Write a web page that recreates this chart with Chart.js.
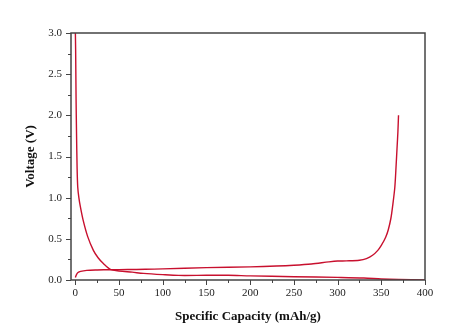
<!DOCTYPE html>
<html>
<head>
<meta charset="utf-8">
<script src="https://cdn.jsdelivr.net/npm/chart.js@4/dist/chart.umd.min.js"></script>
<style>
  html, body { margin: 0; padding: 0; background: #fff; }
  #wrap { width: 472px; height: 330px; }
</style>
</head>
<body>
<div id="wrap"><canvas id="chart" width="472" height="330"></canvas></div>
<script>
// first discharge curve (capacity mAh/g, voltage V)
var dischargeCap = [0, 0.3, 0.8, 1.3, 2, 2.7, 4, 5.7, 8.8, 14, 20.6, 26, 32, 40, 50, 65, 78, 100, 118, 150, 175, 200, 250, 300, 330, 350, 370, 400];
var dischargeV   = [3.0, 2.8, 2.2, 1.8, 1.35, 1.13, 1.0, 0.89, 0.73, 0.53, 0.36, 0.27, 0.2, 0.13, 0.11, 0.095, 0.08, 0.065, 0.056, 0.057, 0.057, 0.05, 0.04, 0.032, 0.025, 0.013, 0.006, 0.0];

// first charge curve
var chargeCap = [0, 1, 3, 6, 13, 25, 40, 60, 80, 100, 150, 200, 230, 250, 270, 290, 300, 310, 325, 333, 340, 346, 350, 355, 358, 361, 363, 365.5, 367, 368, 369, 369.7];
var chargeV   = [0.03, 0.06, 0.09, 0.105, 0.117, 0.122, 0.125, 0.127, 0.13, 0.135, 0.15, 0.16, 0.17, 0.18, 0.195, 0.22, 0.23, 0.232, 0.24, 0.26, 0.3, 0.36, 0.42, 0.52, 0.61, 0.75, 0.9, 1.13, 1.4, 1.6, 1.8, 2.0];

var xTicks = [0, 50, 100, 150, 200, 250, 300, 350, 400];
var yTicks = [0.0, 0.5, 1.0, 1.5, 2.0, 2.5, 3.0];

function toPoints(xs, ys) {
    return xs.map(function(x, i) { return { x: x, y: ys[i] }; });
}

var axisColor = '#444';
var lineColor = '#c8102e';

// frame around the plot plus major / minor tick marks
var framePlugin = {
    id: 'frame',
    afterDraw: function(chart) {
        var ctx = chart.ctx, a = chart.chartArea;
        var xs = chart.scales.x, ys = chart.scales.y;
        ctx.save();
        ctx.strokeStyle = axisColor;
        ctx.lineWidth = 1.5;
        ctx.strokeRect(a.left, a.top, a.right - a.left, a.bottom - a.top);
        ctx.lineWidth = 1;
        ctx.beginPath();
        for (var v = 0; v <= 400; v += 25) {
            var px = Math.round(xs.getPixelForValue(v)) + 0.5;
            var len = (v % 50 === 0) ? 5 : 3;
            ctx.moveTo(px, a.bottom);
            ctx.lineTo(px, a.bottom + len);
        }
        for (var k = 0; k <= 12; k++) {
            var val = k * 0.25;
            var py = Math.round(ys.getPixelForValue(val)) + 0.5;
            var l = (k % 2 === 0) ? 5 : 3;
            ctx.moveTo(a.left, py);
            ctx.lineTo(a.left - l, py);
        }
        ctx.stroke();
        ctx.restore();
    }
};

new Chart(document.getElementById('chart').getContext('2d'), {
    type: 'scatter',
    data: {
        datasets: [{
            label: 'discharge',
            data: toPoints(dischargeCap, dischargeV),
            showLine: true,
            borderColor: lineColor,
            borderWidth: 1.4,
            pointRadius: 0,
            tension: 0.3
        }, {
            label: 'charge',
            data: toPoints(chargeCap, chargeV),
            showLine: true,
            borderColor: lineColor,
            borderWidth: 1.4,
            pointRadius: 0,
            tension: 0.3
        }]
    },
    options: {
        responsive: false,
        animation: false,
        layout: { padding: { left: 23, top: 33, right: 47, bottom: 6 } },
        plugins: { legend: { display: false }, tooltip: { enabled: false } },
        scales: {
            x: {
                type: 'linear',
                min: -5,
                max: 400,
                afterBuildTicks: function(scale) {
                    scale.ticks = xTicks.map(function(v) { return { value: v }; });
                },
                afterFit: function(scale) { scale.height = 44; },
                grid: { display: false, drawTicks: false },
                border: { display: false },
                ticks: {
                    padding: 7,
                    maxRotation: 0,
                    color: '#222',
                    font: { family: 'Liberation Serif', size: 11 }
                },
                title: {
                    display: true,
                    text: 'Specific Capacity (mAh/g)',
                    color: '#111',
                    padding: { top: 3, bottom: 0 },
                    font: { family: 'Liberation Serif', size: 13, weight: 'bold' }
                }
            },
            y: {
                type: 'linear',
                min: 0,
                max: 3,
                afterBuildTicks: function(scale) {
                    scale.ticks = yTicks.map(function(v) { return { value: v }; });
                },
                afterFit: function(scale) { scale.width = 48; },
                grid: { display: false, drawTicks: false },
                border: { display: false },
                ticks: {
                    padding: 9,
                    color: '#222',
                    font: { family: 'Liberation Serif', size: 11 },
                    callback: function(v) { return Number(v).toFixed(1); }
                },
                title: {
                    display: true,
                    text: 'Voltage (V)',
                    color: '#111',
                    padding: { top: 0, bottom: 0 },
                    font: { family: 'Liberation Serif', size: 13, weight: 'bold' }
                }
            }
        }
    },
    plugins: [framePlugin]
});
</script>
</body>
</html>
